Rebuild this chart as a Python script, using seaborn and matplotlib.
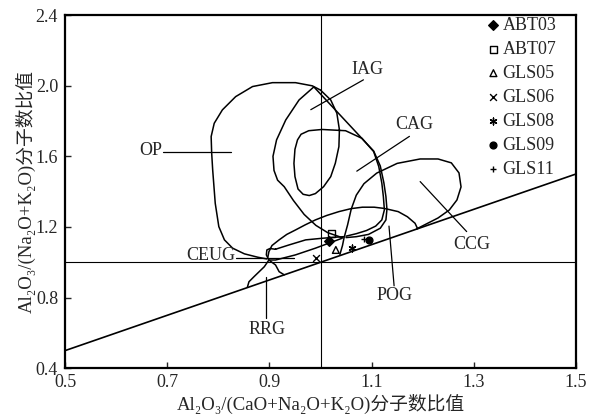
import matplotlib
matplotlib.use("Agg")
import seaborn as sns
import matplotlib.pyplot as plt
from matplotlib.markers import MarkerStyle

# A/CNK - A/NK diagram, field outlines
op_x = [0.895, 0.877, 0.851, 0.828, 0.812, 0.801, 0.794, 0.789, 0.787, 0.786, 0.792, 0.808, 0.834, 0.867, 0.906, 0.951, 0.984, 1.000]
op_y = [1.019, 1.029, 1.048, 1.080, 1.127, 1.202, 1.334, 1.523, 1.620, 1.712, 1.787, 1.863, 1.938, 1.995, 2.017, 2.017, 1.999, 1.975]

cag_x = [1.000, 1.020, 1.032, 1.037, 1.036, 1.029, 1.020, 1.006, 0.990, 0.978, 0.966, 0.956, 0.950, 0.948, 0.950,
         0.955, 0.962, 0.977, 1.003, 1.049, 1.081, 1.104, 1.114, 1.120, 1.123, 1.125, 1.120, 1.108, 1.090, 1.070, 1.050]
cag_y = [1.975, 1.919, 1.844, 1.750, 1.655, 1.561, 1.485, 1.428, 1.389, 1.378, 1.385, 1.415, 1.485, 1.560, 1.640,
         1.693, 1.725, 1.745, 1.752, 1.745, 1.702, 1.627, 1.542, 1.448, 1.372, 1.297, 1.240, 1.205, 1.180, 1.162, 1.148]

iag_x = [1.041, 1.014, 0.991, 0.968, 0.947, 0.929, 0.916, 0.909, 0.907, 0.914, 0.932, 0.958, 0.987,
         1.104, 1.117, 1.124, 1.128, 1.130, 1.128, 1.117, 1.094, 1.070, 1.050]
iag_y = [1.141, 1.168, 1.209, 1.271, 1.350, 1.428, 1.465, 1.520, 1.600, 1.693, 1.806, 1.919, 1.993,
         1.630, 1.545, 1.450, 1.372, 1.300, 1.240, 1.193, 1.158, 1.145, 1.140]

ccg_x = [1.038, 1.043, 1.046, 1.053, 1.060, 1.070, 1.085, 1.110, 1.150, 1.195, 1.230, 1.256, 1.271, 1.275, 1.267, 1.252, 1.230, 1.207, 1.188]
ccg_y = [1.045, 1.095, 1.138, 1.212, 1.300, 1.380, 1.445, 1.505, 1.560, 1.585, 1.585, 1.563, 1.506, 1.427, 1.353, 1.296, 1.251, 1.217, 1.189]

pog_x = [0.897, 0.899, 0.905, 0.919, 0.934, 0.951, 0.970, 0.990, 1.012, 1.036, 1.060, 1.082, 1.105, 1.125, 1.152, 1.170, 1.185, 1.190]
pog_y = [1.030, 1.060, 1.095, 1.127, 1.158, 1.183, 1.212, 1.240, 1.265, 1.287, 1.304, 1.312, 1.312, 1.305, 1.287, 1.258, 1.221, 1.190]

ceug_x = [0.912, 0.938, 0.971, 1.003, 1.029, 1.045, 1.042, 1.016, 0.990, 0.951, 0.912, 0.899, 0.894, 0.895, 0.901, 0.912]
ceug_y = [1.074, 1.098, 1.127, 1.136, 1.142, 1.145, 1.136, 1.108, 1.080, 1.042, 1.013, 1.013, 1.042, 1.070, 1.078, 1.074]

rrg_x = [0.857, 0.860, 0.870, 0.880, 0.890, 0.899, 0.912, 0.919, 0.929]
rrg_y = [0.860, 0.890, 0.919, 0.947, 0.975, 1.013, 0.985, 0.947, 0.929]

diag_x = [0.5, 1.5]
diag_y = [0.5, 1.5]

samples = ["ABT03", "ABT07", "GLS05", "GLS06", "GLS08", "GLS09", "GLS11"]
acnk = [1.017, 1.021, 1.030, 0.992, 1.062, 1.095, 1.085]
ank = [1.120, 1.162, 1.070, 1.023, 1.080, 1.127, 1.130]

xticks = [0.5, 0.7, 0.9, 1.1, 1.3, 1.5]
yticks = [0.4, 0.8, 1.2, 1.6, 2.0, 2.4]

# label text position, alignment, leader line
field_labels = [
    ("IAG", 1.092, 2.090, "center", [1.084, 0.981], [2.033, 1.864]),
    ("CAG", 1.183, 1.779, "center", [1.174, 1.071], [1.713, 1.516]),
    ("OP", 0.691, 1.632, "right", [0.692, 0.825], [1.626, 1.626]),
    ("CCG", 1.296, 1.102, "center", [1.286, 1.195], [1.174, 1.457]),
    ("POG", 1.144, 0.810, "center", [1.144, 1.134], [0.867, 1.205]),
    ("CEUG", 0.834, 1.040, "right", [0.834, 0.948], [1.022, 1.022]),
    ("RRG", 0.896, 0.617, "center", [0.894, 0.894], [0.683, 0.919]),
]

markers = {
    "ABT03": "D",
    "ABT07": MarkerStyle("s", fillstyle="none"),
    "GLS05": MarkerStyle("^", fillstyle="none"),
    "GLS06": "x",
    "GLS08": (6, 2, 0),
    "GLS09": "o",
    "GLS11": "+",
}

sns.set_style("ticks")
plt.rcParams["font.family"] = ["Liberation Serif", "DejaVu Serif", "Noto Sans CJK SC"]
plt.rcParams["font.size"] = 13

fig = plt.figure(figsize=(5.92, 4.19), dpi=100)
ax = fig.add_axes([0.1098, 0.121, 0.8632, 0.8432])

ax.axvline(1.0, color="k", lw=0.8)
ax.axhline(1.0, color="k", lw=0.8)
sns.lineplot(x=diag_x, y=diag_y, color="k", lw=1.2, ax=ax)

for fx, fy in [(op_x, op_y), (cag_x, cag_y), (iag_x, iag_y), (ccg_x, ccg_y),
               (pog_x, pog_y), (ceug_x, ceug_y), (rrg_x, rrg_y)]:
    sns.lineplot(x=fx, y=fy, sort=False, estimator=None, color="k", lw=1.1, ax=ax)

for name, tx, ty, ha, lx, ly in field_labels:
    ax.plot(lx, ly, color="k", lw=0.9)
    ax.text(tx, ty, name, ha=ha, va="center", fontsize=13)

for name, xv, yv in zip(samples, acnk, ank):
    m = markers[name]
    kw = {}
    if MarkerStyle(m).is_filled():
        kw["edgecolor"] = "k"
    sns.scatterplot(x=[xv], y=[yv], marker=m, color="k", s=24, linewidth=1.0,
                    label=name, ax=ax, zorder=5, **kw)

ax.legend(loc="upper right", bbox_to_anchor=(0.965, 1.0), frameon=False,
          fontsize=13, borderaxespad=0, borderpad=0.1, labelspacing=0.39,
          handlelength=0.6, handletextpad=0.2)

ax.set_xlim(0.5, 1.5)
ax.set_ylim(0.4, 2.4)
ax.set_xticks(xticks)
ax.set_xticklabels([f"{t:.1f}" for t in xticks])
ax.set_yticks(yticks)
ax.set_yticklabels([f"{t:.1f}" for t in yticks])
ax.tick_params(direction="in", length=4, width=1, labelsize=13)
ax.tick_params(axis="x", pad=4)
ax.tick_params(axis="y", pad=5)
for sp in ax.spines.values():
    sp.set_linewidth(1.6)
    sp.set_color("k")

ax.set_xlabel("Al\u2082O\u2083/(CaO+Na\u2082O+K\u2082O)分子数比值", fontsize=13.5, labelpad=2)
ax.set_ylabel("Al\u2082O\u2083/(Na\u2082O+K\u2082O)分子数比值", fontsize=13.5, labelpad=0)

fig.savefig("out.png", dpi=100)
